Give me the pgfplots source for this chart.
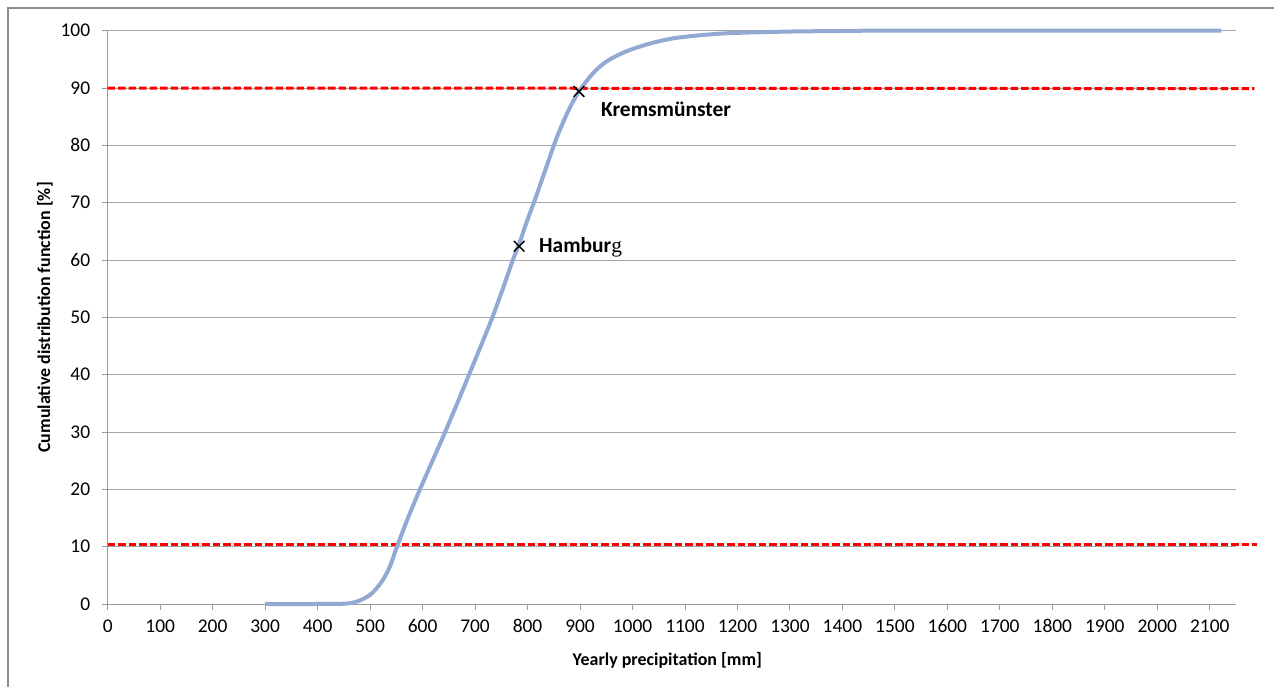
\documentclass[border=0pt]{standalone}
\usepackage{fontspec}
\setmainfont{Carlito}
\newfontfamily\serifg{Liberation Serif}
\usepackage{pgfplots}
\pgfplotsset{compat=1.18}
\definecolor{curvec}{HTML}{92A9D4}
\definecolor{gridc}{HTML}{A6A6A6}
\definecolor{axisc}{HTML}{9A9A9A}
\definecolor{framec}{HTML}{8C8C8C}
\begin{document}
\begin{tikzpicture}[x=1bp,y=1bp]
\path[use as bounding box] (-107.7,-83) rectangle (1166.3,604);
\draw[color=framec, line width=1.5bp] (-99.7,-83) -- (-99.7,596) -- (1166.3,596);
\begin{axis}[
  at={(0,0)}, anchor=south west,
  scale only axis, width=1128.3bp, height=573.3bp,
  xmin=0, xmax=2150, ymin=0, ymax=100,
  xtick={0,100,...,2100}, ytick={0,10,...,100},
  axis lines=left, axis line style={-, draw=axisc, line width=0.9bp},
  tick align=outside, major tick length=6bp,
  tick style={draw=axisc, line width=0.9bp},
  ymajorgrids, grid style={draw=gridc, line width=0.9bp},
  /pgf/number format/assume math mode=true,
  /pgf/number format/1000 sep={},
  ticklabel style={font=\fontsize{19.5}{21}\selectfont, text=black},
  xticklabel style={yshift=-6bp},
  yticklabel style={xshift=-8bp},
  label style={font=\fontsize{18}{20}\selectfont\bfseries, text=black},
  xlabel={Yearly precipitation [mm]},
  ylabel={Cumulative distribution function [\%]},
  xlabel style={at={(axis description cs:0.496,-0.0977)}, anchor=center},
  ylabel style={at={(axis description cs:-0.0556,0.5)}, anchor=center},
  clip=false,
]
\addplot[red, line width=3bp, dash pattern=on 7.5bp off 3bp] coordinates {(0,90) (2185,89.9)};
\addplot[red, line width=3bp, dash pattern=on 7.5bp off 3bp] coordinates {(0,10.3) (2190,10.3)};
\addplot[curvec, line width=4bp, smooth, tension=0.5] coordinates {
(300,0)(400,0)(450,0.05)(470,0.3)(485,0.8)(500,1.6)(512,2.7)(525,4.3)(538,6.6)
(552,10.2)(573,15.2)(595,20.0)(619,25)(643,30.0)(666,35)(689,40.1)(711,45)(733,50)
(753,55)(772,60)(784,62.8)(799,66.8)(814,70.5)(835,76)(855,81.2)(877,85.9)(898,89.4)
(925,92.6)(950,94.6)(976,95.9)(1000,96.8)(1039,97.9)(1080,98.7)(1134,99.25)(1180,99.55)
(1230,99.7)(1300,99.85)(1400,99.95)(1500,100)(2122,100)};
\addplot[only marks, mark=x, mark size=7.5bp, black, mark options={line width=1.5bp}] coordinates {(784,62.4)(898,89.4)};
\node[anchor=west, inner sep=2bp, font=\fontsize{21.5}{23}\selectfont\bfseries] at (axis cs:818,62.3) {Hambur{\serifg\mdseries g}};
\node[anchor=west, inner sep=2bp, font=\fontsize{21.5}{23}\selectfont\bfseries] at (axis cs:936,86.2) {Kremsmünster};
\end{axis}
\end{tikzpicture}
\end{document}
